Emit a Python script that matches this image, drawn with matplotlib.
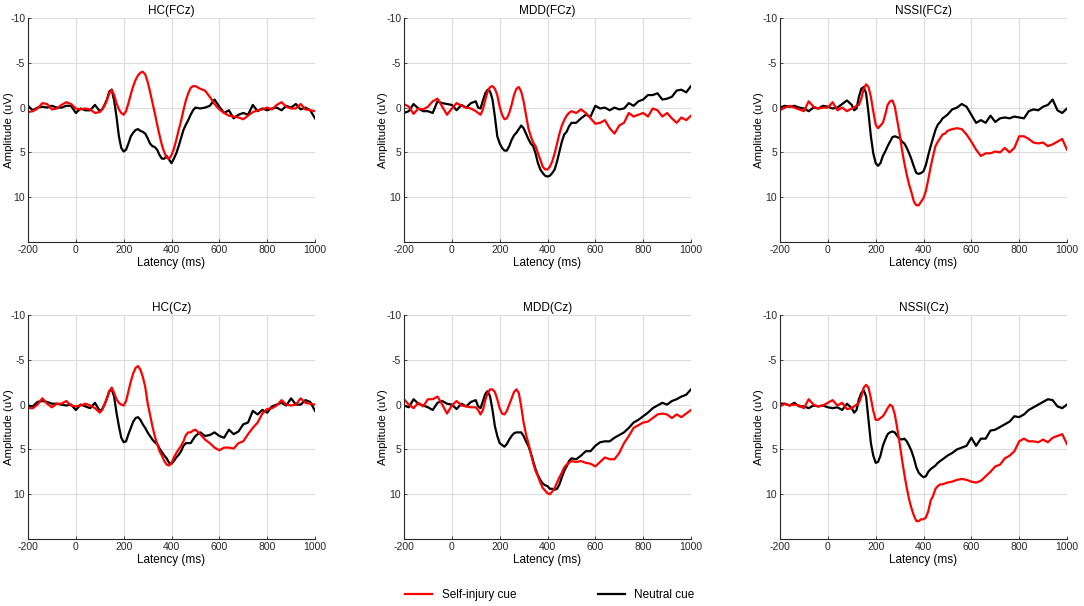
import numpy as np
import matplotlib
matplotlib.use('Agg')
import matplotlib.pyplot as plt
from matplotlib.lines import Line2D

plt.rcParams['font.family'] = ['Liberation Sans', 'DejaVu Sans']
plt.rcParams['axes.unicode_minus'] = False

# latency grid (ms): 20 ms steps in baseline / late part, 10 ms steps 100-490
t = np.concatenate([np.arange(-200, 100, 20), np.arange(100, 500, 10), np.arange(500, 1001, 20)])

# amplitudes in uV (negative up)
hc_fcz_self = [0.5, 0.4, 0.1, -0.5, -0.4, 0.2, 0.1, -0.3, -0.6, -0.4, 0.1, 0.2, 0.1, 0.2, 0.6,
               0.5, 0.2, -0.2, -0.8, -1.6, -2.0, -1.4, -0.5, 0.2, 0.6, 0.8, 0.4, -0.5, -1.5, -2.4, -3.1, -3.6, -3.9, -4.0, -3.7,
               -2.9, -1.8, -0.6, 0.6, 1.9, 3.1, 4.2, 5.0, 5.6, 5.7, 5.3, 4.6, 3.6, 2.5, 1.5, 0.3, -0.8, -1.6, -2.2, -2.4,
               -2.4, -2.1, -1.9, -1.2, -0.4, 0.2, 0.6, 0.9, 1.0, 1.1, 1.3, 0.9, 0.5, 0.3, 0.2, 0.0, 0.2, -0.3, -0.6, -0.1,
               0.1, 0.1, -0.4, 0.2, 0.3, 0.4]
hc_fcz_neutral = [-0.2, 0.3, 0.0, -0.1, 0.0, -0.2, 0.0, 0.0, -0.2, -0.2, 0.6, 0.1, 0.3, 0.3, -0.3,
                  0.4, 0.2, -0.3, -0.9, -1.8, -2.0, -0.8, 1.0, 3.2, 4.5, 4.9, 4.7, 4.0, 3.2, 2.8, 2.5, 2.4, 2.6, 2.7, 2.9,
                  3.4, 4.0, 4.3, 4.4, 4.7, 5.3, 5.7, 5.7, 5.4, 5.8, 6.2, 5.7, 5.1, 4.3, 3.4, 2.5, 1.9, 1.4, 0.8, 0.3,
                  0.0, 0.1, 0.0, -0.2, -0.9, -0.1, 0.6, 0.3, 1.2, 0.8, 0.6, 0.8, -0.3, 0.4, 0.1, 0.3, 0.1, 0.0, 0.3, -0.2,
                  0.0, -0.4, 0.2, 0.0, 0.3, 1.2]

mdd_fcz_self = [-0.4, -0.1, 0.7, 0.1, 0.2, -0.1, -0.7, -1.0, -0.1, 0.8, 0.1, -0.5, -0.2, 0.0, 0.1,
                0.4, 0.6, 0.8, 0.2, -0.9, -1.8, -2.3, -2.4, -2.1, -1.4, -0.1, 0.8, 1.3, 1.2, 0.6, -0.3, -1.4, -2.1, -2.3, -1.8,
                -0.7, 0.8, 2.3, 3.2, 3.9, 4.3, 5.1, 5.8, 6.6, 6.9, 6.9, 6.6, 6.0, 5.1, 4.0, 2.9, 2.0, 1.4, 0.9, 0.6,
                0.4, 0.6, 0.2, 0.6, 1.2, 1.8, 1.7, 1.4, 2.3, 2.9, 2.0, 1.7, 0.6, 1.0, 0.8, 0.6, 1.0, 0.1, 0.3, 1.0,
                0.6, 1.2, 1.7, 1.1, 1.4, 0.9]
mdd_fcz_neutral = [0.6, 0.4, -0.4, 0.1, 0.4, 0.4, 0.6, -0.7, -0.5, -0.4, -0.3, 0.3, -0.3, 0.0, -0.5,
                   -0.7, 0.0, 0.1, -0.8, -1.6, -2.0, -1.8, -0.9, 1.0, 3.2, 4.0, 4.5, 4.8, 4.8, 4.3, 3.6, 3.1, 2.8, 2.4, 2.0,
                   2.3, 2.9, 3.5, 4.0, 4.3, 5.1, 6.2, 6.9, 7.3, 7.6, 7.7, 7.6, 7.3, 6.9, 6.0, 4.9, 3.8, 3.0, 2.7, 2.1,
                   1.7, 1.7, 1.2, 0.8, 1.0, -0.2, 0.1, 0.0, 0.3, 0.0, 0.2, 0.1, -0.5, -0.2, -0.7, -0.9, -1.4, -1.4, -1.6, -0.9,
                   -1.0, -1.2, -1.9, -2.0, -1.7, -2.4]

nssi_fcz_self = [0.3, 0.0, -0.2, 0.0, 0.2, 0.4, -0.7, -0.1, 0.1, 0.0, 0.0, -0.6, 0.3, 0.0, 0.4,
                 0.1, 0.0, -0.2, -0.3, -1.0, -2.1, -2.6, -2.3, -1.2, 0.4, 1.9, 2.3, 2.0, 1.7, 0.8, -0.3, -0.7, -0.8, -0.1, 1.4,
                 2.9, 4.7, 6.2, 7.5, 8.6, 9.5, 10.5, 10.9, 10.9, 10.5, 10.1, 9.3, 8.0, 6.6, 5.4, 4.3, 3.8, 3.4, 3.0, 2.9,
                 2.6, 2.4, 2.3, 2.4, 3.0, 3.8, 4.7, 5.4, 5.1, 5.1, 4.9, 5.0, 4.5, 5.0, 4.5, 3.2, 3.2, 3.5, 3.9, 4.0,
                 3.9, 4.3, 4.1, 3.8, 3.5, 4.7]
nssi_fcz_neutral = [0.0, -0.2, -0.1, -0.2, 0.0, 0.1, 0.4, 0.0, 0.1, -0.2, -0.1, 0.1, 0.0, -0.4, -0.8,
                    -0.3, 0.3, 0.1, -1.2, -2.1, -2.3, -1.6, 0.6, 3.2, 5.1, 6.2, 6.5, 6.2, 5.4, 4.9, 4.3, 3.8, 3.3, 3.2, 3.3,
                    3.4, 3.8, 4.0, 4.5, 5.1, 5.8, 6.6, 7.3, 7.4, 7.3, 7.1, 6.4, 5.3, 4.3, 3.4, 2.5, 1.9, 1.6, 1.2, 1.0,
                    0.8, 0.2, 0.0, -0.4, -0.1, 0.8, 1.7, 1.4, 1.7, 0.9, 1.6, 1.2, 1.1, 1.2, 1.0, 1.1, 1.2, 0.4, 0.2, 0.3,
                    -0.1, -0.3, -0.9, 0.3, 0.6, 0.1]

hc_cz_self = [0.4, 0.4, 0.0, -0.7, -0.1, 0.3, -0.1, -0.1, -0.4, 0.1, 0.2, 0.1, -0.1, 0.1, 0.4,
              0.9, 0.6, 0.0, -0.7, -1.5, -1.9, -1.3, -0.6, -0.2, 0.0, 0.1, -0.4, -1.5, -2.6, -3.5, -4.1, -4.3, -3.9, -3.1, -2.0,
              -0.2, 1.1, 2.4, 3.5, 4.4, 5.2, 5.7, 6.3, 6.7, 6.8, 6.5, 5.9, 5.4, 5.0, 4.6, 4.1, 3.4, 3.1, 3.1, 2.9,
              2.8, 3.3, 3.9, 4.3, 4.8, 5.1, 4.8, 4.8, 4.9, 4.3, 4.1, 3.3, 2.6, 2.0, 1.0, 0.5, 0.4, 0.1, -0.5, 0.0,
              0.1, 0.0, -0.7, -0.2, -0.1, 0.0]
hc_cz_neutral = [0.1, 0.2, -0.3, -0.4, -0.3, -0.1, -0.1, 0.0, 0.1, 0.0, 0.6, 0.0, 0.2, 0.4, -0.2,
                 0.7, 0.5, 0.0, -0.7, -1.5, -1.7, -0.9, 0.9, 2.4, 3.7, 4.2, 4.1, 3.3, 2.6, 1.9, 1.5, 1.4, 1.7, 2.2, 2.6,
                 3.1, 3.5, 3.9, 4.2, 4.4, 4.9, 5.3, 5.7, 6.0, 6.5, 6.6, 6.3, 5.9, 5.6, 5.2, 4.6, 4.3, 4.3, 4.3, 3.9,
                 3.5, 3.1, 3.5, 3.4, 3.1, 3.5, 3.7, 2.8, 3.3, 3.0, 2.2, 2.0, 0.7, 1.1, 0.6, 0.9, 0.2, 0.0, -0.2, 0.1,
                 -0.7, 0.0, 0.0, -0.5, -0.3, 0.7]

mdd_cz_self = [-0.6, 0.0, 0.4, -0.2, 0.2, -0.6, -0.6, -0.9, 0.0, 1.0, 0.1, -0.4, 0.1, 0.2, 0.3,
               0.3, 0.6, 1.1, 0.6, -0.5, -1.3, -1.7, -1.7, -1.4, -0.6, 0.4, 1.0, 1.1, 0.7, 0.0, -0.7, -1.4, -1.7, -1.3, 0.2,
               2.0, 3.3, 4.3, 5.4, 6.5, 7.4, 8.0, 8.7, 9.3, 9.6, 9.9, 10.0, 9.7, 9.3, 8.7, 8.1, 7.6, 7.0, 6.7, 6.5,
               6.3, 6.4, 6.3, 6.5, 6.6, 6.9, 6.4, 5.9, 6.1, 6.1, 5.4, 4.3, 3.5, 2.6, 2.3, 2.0, 1.9, 1.5, 1.1, 1.0,
               1.1, 1.5, 1.1, 1.4, 1.0, 0.6]
mdd_cz_neutral = [0.1, 0.3, -0.6, -0.1, 0.1, 0.3, 0.6, -0.2, -0.4, -0.1, 0.0, 0.5, -0.1, 0.2, -0.3,
                  -0.5, 0.2, 0.4, -0.4, -1.2, -1.5, -0.9, 0.6, 2.4, 3.5, 4.3, 4.5, 4.7, 4.4, 3.9, 3.5, 3.2, 3.1, 3.1, 3.1,
                  3.5, 4.1, 4.6, 5.4, 6.3, 7.2, 7.9, 8.4, 8.8, 9.0, 9.1, 9.4, 9.4, 9.5, 9.4, 8.9, 8.1, 7.4, 6.9, 6.3,
                  6.0, 6.1, 5.7, 5.2, 5.2, 4.6, 4.2, 4.1, 4.1, 3.7, 3.4, 3.1, 2.6, 2.0, 1.7, 1.3, 0.9, 0.4, 0.1, -0.2,
                  0.0, -0.4, -0.6, -0.9, -1.1, -1.7]

nssi_cz_self = [0.2, -0.1, 0.1, 0.0, 0.1, 0.4, -0.6, 0.0, 0.2, 0.1, -0.2, -0.5, 0.1, -0.2, 0.5,
                0.4, 0.2, 0.0, -0.2, -0.9, -1.9, -2.2, -1.9, -0.7, 0.7, 1.7, 1.7, 1.5, 1.3, 0.9, 0.4, 0.0, 0.2, 1.1, 2.6,
                4.3, 6.1, 7.8, 9.3, 10.6, 11.6, 12.4, 13.0, 13.0, 12.8, 12.8, 12.6, 11.9, 10.7, 10.2, 9.4, 9.1, 8.9, 8.9, 8.8,
                8.7, 8.6, 8.4, 8.3, 8.4, 8.6, 8.7, 8.5, 8.0, 7.5, 6.9, 6.7, 6.0, 5.7, 5.2, 4.1, 3.8, 4.1, 4.1, 4.2,
                3.9, 4.2, 3.7, 3.5, 3.3, 4.4]
nssi_cz_neutral = [-0.1, -0.1, 0.1, -0.2, 0.2, 0.2, 0.4, 0.1, 0.2, 0.1, 0.3, 0.4, 0.3, 0.6, -0.1,
                   0.4, 0.9, 0.6, -0.6, -1.3, -1.6, -0.9, 1.7, 4.3, 5.7, 6.5, 6.4, 5.7, 4.6, 3.9, 3.3, 3.1, 3.0, 3.1, 3.5,
                   3.8, 3.9, 3.8, 4.1, 4.6, 5.2, 6.0, 7.0, 7.6, 7.9, 8.1, 8.0, 7.5, 7.2, 7.0, 6.8, 6.5, 6.3, 6.1, 5.9,
                   5.7, 5.4, 5.0, 4.8, 4.6, 3.7, 4.6, 3.8, 3.8, 2.9, 2.8, 2.5, 2.2, 1.9, 1.3, 1.4, 1.1, 0.6, 0.3, 0.0,
                   -0.3, -0.6, -0.5, 0.2, 0.4, 0.0]

titles = ['HC(FCz)', 'MDD(FCz)', 'NSSI(FCz)', 'HC(Cz)', 'MDD(Cz)', 'NSSI(Cz)']
self_series = [hc_fcz_self, mdd_fcz_self, nssi_fcz_self, hc_cz_self, mdd_cz_self, nssi_cz_self]
neutral_series = [hc_fcz_neutral, mdd_fcz_neutral, nssi_fcz_neutral, hc_cz_neutral, mdd_cz_neutral, nssi_cz_neutral]

W, H = 1084, 606
fig = plt.figure(figsize=(W / 100, H / 100), dpi=100)

col_left = [28, 404, 780]
row_top = [18, 315]
ax_w, ax_h = 287, 224
# offset (px) of the y-label's right side from the axis line
ylab_off = [-14, -16, -16]

for i, title in enumerate(titles):
    r, c = divmod(i, 3)
    left = col_left[c] / W
    bottom = 1 - (row_top[r] + ax_h) / H
    ax = fig.add_axes([left, bottom, ax_w / W, ax_h / H])
    ax.plot(t, neutral_series[i], color='black', lw=1.6)
    ax.plot(t, self_series[i], color='red', lw=1.6)
    ax.set_xlim(-200, 1000)
    ax.set_ylim(15, -10)
    ax.set_xticks(range(-200, 1001, 200))
    ax.set_yticks([-10, -5, 0, 5, 10])
    ax.grid(True, color='#dcdcdc', lw=0.8)
    ax.set_axisbelow(True)
    for s in ['top', 'right']:
        ax.spines[s].set_visible(False)
    for s in ['left', 'bottom']:
        ax.spines[s].set_color('#262626')
        ax.spines[s].set_linewidth(0.8)
    ax.tick_params(direction='in', length=2.5, width=0.6, labelsize=7.5, colors='#262626', pad=2)
    ax.set_title(title, fontsize=8.5, pad=3)
    ax.set_xlabel('Latency (ms)', fontsize=8.5, labelpad=1.5)
    ax.set_ylabel('Amplitude (uV)', fontsize=8.2)
    ax.yaxis.set_label_coords(ylab_off[c] / ax_w, 0.5)

handles = [Line2D([], [], color='red', lw=1.6), Line2D([], [], color='black', lw=1.6)]
fig.legend(handles, ['Self-injury cue', 'Neutral cue'], loc='center',
           bbox_to_anchor=(550 / W, 1 - 595 / H), ncol=2, frameon=False, fontsize=8.5,
           handlelength=2.3, handletextpad=0.8, columnspacing=6.9)

fig.savefig('out.png', dpi=100)
